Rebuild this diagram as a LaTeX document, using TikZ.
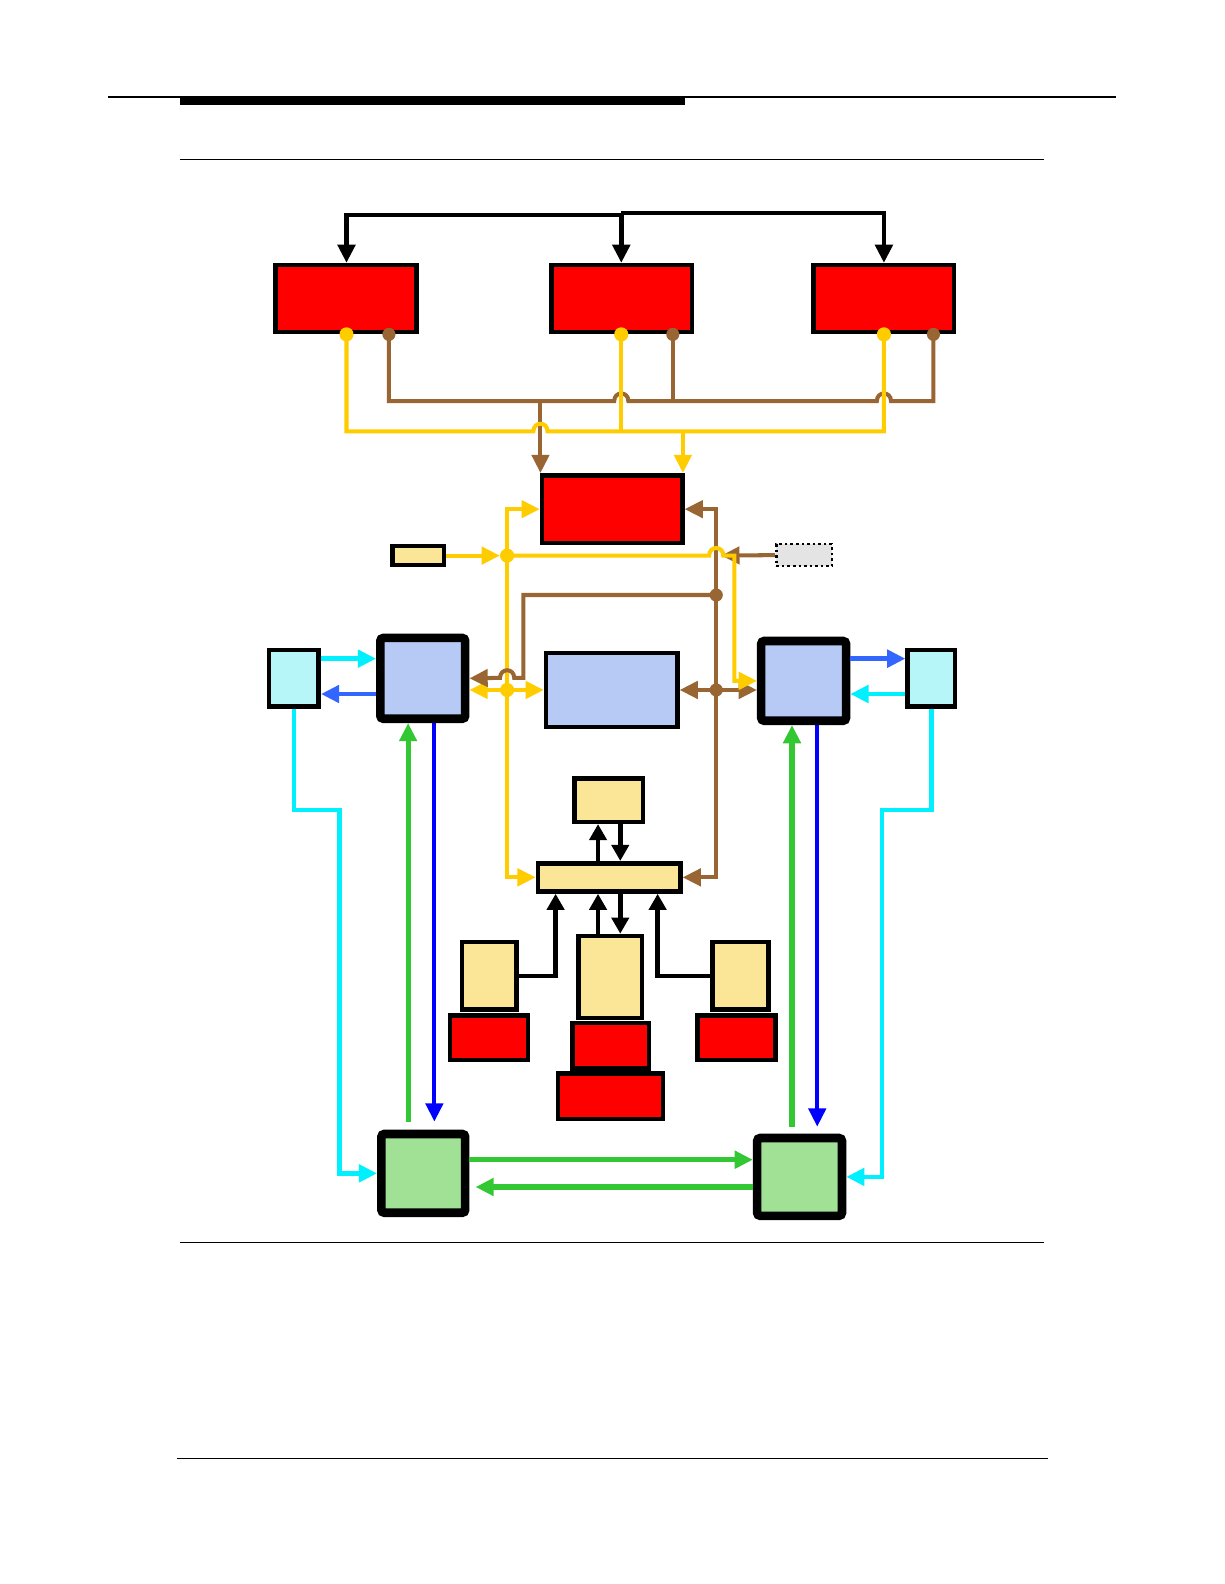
\documentclass[tikz,border=0pt]{standalone}
\usetikzlibrary{arrows.meta}
\definecolor{gold}{RGB}{255,204,0}
\definecolor{brn}{RGB}{153,102,51}
\definecolor{cyn}{RGB}{0,240,255}
\definecolor{rblue}{RGB}{51,102,255}
\definecolor{pblue}{RGB}{0,0,255}
\definecolor{grn}{RGB}{51,200,51}
\definecolor{yfill}{RGB}{250,230,150}
\definecolor{bfill}{RGB}{182,202,245}
\definecolor{cfill}{RGB}{182,245,248}
\definecolor{gfill}{RGB}{160,225,150}
\definecolor{grayfill}{RGB}{228,228,228}
\begin{document}
\begin{tikzpicture}[x=1pt,y=-1pt,
  >={Triangle[length=18pt,width=17pt]},
  redbox/.style={draw=black,fill=red,line width=4.5pt,inner sep=0pt},
  ybox/.style={draw=black,fill=yfill,line width=4.5pt,inner sep=0pt},
  midbox/.style={draw=black,fill=bfill,line width=4.5pt,inner sep=0pt},
  cbox/.style={draw=black,fill=cfill,line width=4.5pt,inner sep=0pt},
  tbox/.style={draw=black,line width=8.5pt,rounded corners=3pt,inner sep=0pt},
  kline/.style={draw=black,line width=4.5pt},
  smallhead/.style={-{Triangle[length=16pt,width=17pt]}},
  yline/.style={draw=gold,line width=4pt},
  bline/.style={draw=brn,line width=4pt},
  cline/.style={draw=cyn,line width=4.5pt},
  rbline/.style={draw=rblue,line width=4.5pt},
  bbline/.style={draw=pblue,line width=4pt},
  gline/.style={draw=grn,line width=5pt},
  ydot/.style={circle,fill=gold,inner sep=0pt,minimum size=14pt},
  bdot/.style={circle,fill=brn,inner sep=0pt,minimum size=13pt}]
\useasboundingbox (0,0) rectangle (1212,1568);
\fill[white] (0,0) rectangle (1212,1568);

% header and rules
\draw[line width=1.2pt] (107,96) -- (1105,96);
\fill[black] (178,95) rectangle (678,104);
\draw[line width=1.2pt] (178,158) -- (1033,158);
\draw[line width=1.2pt] (178,1230) -- (1033,1230);
\draw[line width=1.2pt] (175,1444) -- (1037,1444);

% top red boxes
\node[redbox,minimum width=140pt,minimum height=66pt] (A) at (342.5,295.5) {};
\node[redbox,minimum width=139pt,minimum height=66pt] (B) at (615.5,295.5) {};
\node[redbox,minimum width=139pt,minimum height=66pt] (C) at (875,295.5) {};
\node[redbox,minimum width=139pt,minimum height=67pt] (D) at (606,504) {};

% small boxes
\node[ybox,minimum width=51pt,minimum height=19pt] (E) at (414,550) {};
\node[draw=black,fill=grayfill,line width=2.5pt,dash pattern=on 2.5pt off 3pt,inner sep=0pt,minimum width=55pt,minimum height=22pt] (F) at (796,549.5) {};

% blue boxes
\node[tbox,fill=bfill,minimum width=84pt,minimum height=80pt] (G) at (418.5,671.5) {};
\node[midbox,minimum width=130pt,minimum height=73pt] (H) at (605.5,683) {};
\node[tbox,fill=bfill,minimum width=84pt,minimum height=79pt] (I) at (795.5,674) {};
\node[cbox,minimum width=49pt,minimum height=56pt] (K) at (291,671.5) {};
\node[cbox,minimum width=47pt,minimum height=56pt] (L) at (922,671.5) {};

% green boxes
\node[tbox,fill=gfill,minimum width=83pt,minimum height=78pt] (M) at (419,1161.5) {};
\node[tbox,fill=gfill,minimum width=84pt,minimum height=77pt] (N) at (791.5,1165) {};

% middle yellow stack
\node[ybox,minimum width=68pt,minimum height=43pt] (Q) at (602.5,792) {};
\node[ybox,minimum width=141pt,minimum height=28pt] (J) at (603,868.5) {};
\node[ybox,minimum width=54pt,minimum height=67pt] (R) at (484.5,966) {};
\node[redbox,minimum width=77pt,minimum height=44pt] (R2) at (484,1027.5) {};
\node[ybox,minimum width=63pt,minimum height=81pt] (S) at (604,967) {};
\node[redbox,minimum width=76pt,minimum height=45pt] (T) at (604.5,1035) {};
\node[redbox,minimum width=104pt,minimum height=45pt] (U) at (604.5,1085) {};
\node[ybox,minimum width=55pt,minimum height=67pt] (V) at (733,966) {};
\node[redbox,minimum width=77pt,minimum height=44pt] (W) at (729,1027.5) {};

% dots
\node[ydot] (Ay) at (343,331) {};
\node[bdot] (Ab) at (385,331) {};
\node[ydot] (By) at (615,331) {};
\node[bdot] (Bb) at (666,331) {};
\node[ydot] (Cy) at (875,331) {};
\node[bdot] (Cb) at (924,331) {};
\node[ydot] (y1) at (502,550) {};
\node[ydot] (y2) at (502,683) {};
\node[bdot] (b1) at (709,589) {};
\node[bdot] (b2) at (709,683) {};

% coordinates
\coordinate (t1) at (343,213);
\coordinate (t2) at (615,213);
\coordinate (t3) at (615,211);
\coordinate (t4) at (875,211);
\coordinate (bj) at (535,397);
\coordinate (yj) at (676,427);
\coordinate (fE) at (714,550);
\coordinate (yA) at (0,652);
\coordinate (yB) at (0,687);
\coordinate (x1) at (592,0);
\coordinate (x2) at (614,0);
\coordinate (xr) at (550,0);
\coordinate (xv) at (651,0);
\coordinate (g1) at (404,0);
\coordinate (bl1) at (430,0);
\coordinate (g2) at (784,0);
\coordinate (bl2) at (809,0);
\coordinate (yG1) at (0,1148);
\coordinate (yG2) at (0,1175);

% black top bus
\draw[kline,->] (t2) -- (t1) -- (A.north -| t1);
\draw[kline,->] (t3) -- (t4) -- (C.north -| t4);
\draw[kline,->] (t2) -- (t3) -- (B.north -| t3);

% brown top bus
\draw[bline] (Ab.center) -- (385,397) -- (608,397) .. controls (608,387) and (622,387) .. (622,397) -- (868,397) .. controls (868,387) and (882,387) .. (882,397) -- (924,397) -- (Cb.center);
\draw[bline] (Bb.center) -- (666,397);
\draw[bline,->] (bj) -- (D.north -| bj);

% yellow top bus
\draw[yline] (Ay.center) -- (343,427) -- (528,427) .. controls (528,417) and (542,417) .. (542,427) -- (875,427) -- (Cy.center);
\draw[yline] (By.center) -- (615,427);
\draw[yline,->] (yj) -- (D.north -| yj);

% brown middle
\draw[bline,->] (F.west) -- (fE);
\draw[bline,->] (b1.center) |- (D.east);
\draw[bline,->] (b1.center) |- (J.east);
\draw[bline,<->] (H.east) -- (I.west |- b2);

% yellow middle
\draw[yline,->] (E.east) -- (y1);
\draw[yline,->] (y1.center) |- (D.west);
\draw[yline,->] (y1.center) |- (J.west);
\draw[yline,<->] (G.east |- y2) -- (H.west);
\draw[yline,->] (y1.center) -- (702,550) .. controls (702,540) and (716,540) .. (716,550) -- (727,550) |- (I.west);

% brown loop into G (hops over yellow)
\draw[bline,->] (b1.center) -- (518,589) -- (518,671) -- (509,671) .. controls (509,661) and (495,661) .. (495,671) -- (G.east);

% black middle
\draw[kline,smallhead] (J.north -| x1) -- (Q.south -| x1);
\draw[kline,smallhead] (Q.south -| x2) -- (J.north -| x2);
\draw[kline,smallhead] (S.north -| x1) -- (J.south -| x1);
\draw[kline,smallhead] (J.south -| x2) -- (S.north -| x2);
\draw[kline,smallhead] (R.east) -| (J.south -| xr);
\draw[kline,smallhead] (V.west) -| (J.south -| xv);

% cyan / blue side arrows
\draw[cline,->] (K.east |- yA) -- (G.west |- yA);
\draw[rbline,->] (G.west |- yB) -- (K.east |- yB);
\draw[rbline,->] (I.east |- yA) -- (L.west |- yA);
\draw[cline,->] (L.west |- yB) -- (I.east |- yB);
\draw[cline,->] (K.south) |- (336,802) |- (M.west);
\draw[cline,->] (L.south) |- (873,802) |- (N.east);

% green / blue verticals
\draw[gline,->,shorten <=8pt] (M.north -| g1) -- (G.south -| g1);
\draw[bbline,->,shorten >=8pt] (G.south -| bl1) -- (M.north -| bl1);
\draw[gline,->,shorten <=7pt] (N.north -| g2) -- (I.south -| g2);
\draw[bbline,->,shorten >=7pt] (I.south -| bl2) -- (N.north -| bl2);
\draw[gline,->] (M.east |- yG1) -- (N.west |- yG1);
\draw[gline,->,shorten >=6pt] (N.west |- yG2) -- (M.east |- yG2);
\end{tikzpicture}
\end{document}
